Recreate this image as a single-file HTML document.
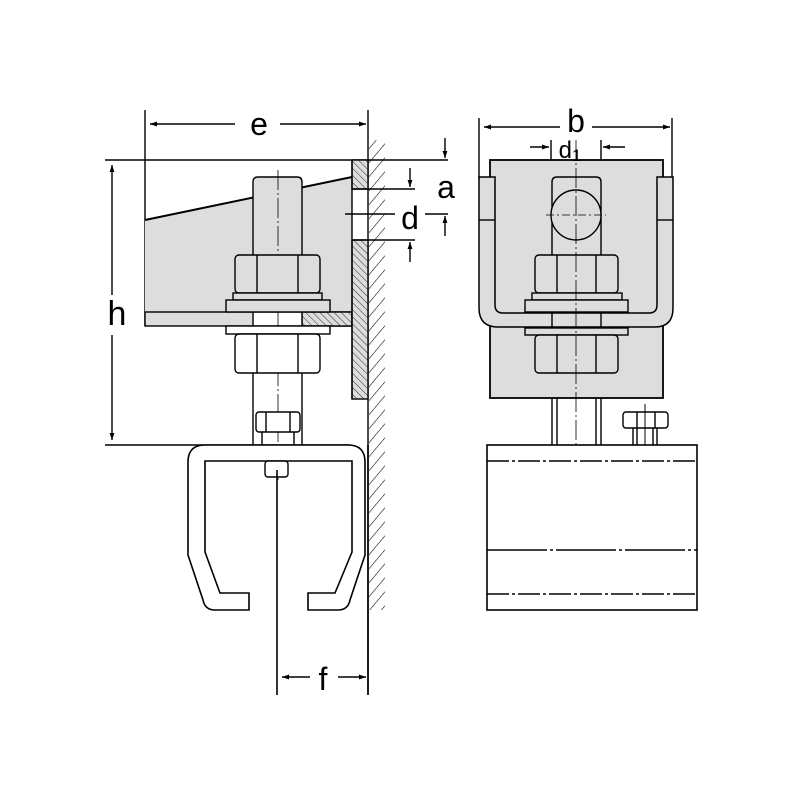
<!DOCTYPE html>
<html><head><meta charset="utf-8"><style>
html,body{margin:0;padding:0;background:#fff;width:800px;height:800px;overflow:hidden}
text{font-family:"Liberation Sans",Arial,sans-serif;fill:#000}
</style></head><body>
<svg width="800" height="800" viewBox="0 0 800 800" xmlns="http://www.w3.org/2000/svg">
<defs>
<pattern id="hw" width="9" height="9" patternUnits="userSpaceOnUse" patternTransform="rotate(40)">
<line x1="0" y1="0" x2="0" y2="9" stroke="#000" stroke-width="1.1"/></pattern>
<pattern id="hp" width="5" height="5" patternUnits="userSpaceOnUse" patternTransform="rotate(-45)">
<rect width="5" height="5" fill="#ddd"/><line x1="0" y1="0" x2="0" y2="5" stroke="#000" stroke-width="0.8"/></pattern>
<marker id="ar" viewBox="0 0 10 10" refX="10" refY="5" markerWidth="10" markerHeight="7" orient="auto-start-reverse" markerUnits="userSpaceOnUse">
<path d="M0,1.5 L10,5 L0,8.5 z" fill="#000"/></marker>
</defs>
<g stroke="#000" fill="none" stroke-width="1.4">
<rect x="369" y="140" width="16" height="470" fill="url(#hw)" stroke="none"/>
<line x1="368" y1="110" x2="368" y2="695"/>
<line x1="145" y1="110" x2="145" y2="326"/>
<line x1="150" y1="124" x2="235" y2="124" marker-start="url(#ar)"/>
<line x1="280" y1="124" x2="366" y2="124" marker-end="url(#ar)"/>
<line x1="105" y1="160" x2="448" y2="160"/>
<polygon points="145,220 352,177 352,312 145,312" fill="#ddd" stroke="none"/>
<line x1="145" y1="220" x2="352" y2="177" stroke-width="2"/>
<rect x="145" y="312" width="207" height="14" fill="#ddd"/>
<rect x="302" y="312" width="50" height="14" fill="url(#hp)"/>
<rect x="253" y="312" width="49" height="14" fill="#fff"/>
<rect x="352" y="160" width="16" height="29" fill="url(#hp)"/>
<rect x="352" y="240" width="16" height="159" fill="url(#hp)"/>
<line x1="352" y1="160" x2="352" y2="399"/>
<line x1="352" y1="189" x2="415" y2="189"/>
<line x1="352" y1="240" x2="415" y2="240"/>
<path d="M253,312 V182 Q253,177 258,177 H297 Q302,177 302,182 V312" fill="#ddd"/>
<line x1="278" y1="170" x2="278" y2="480" stroke-width="0.8" stroke-dasharray="20,3,2,3"/>
<rect x="235" y="255" width="85" height="38" rx="4" fill="#ddd"/>
<line x1="257" y1="255" x2="257" y2="293"/><line x1="298" y1="255" x2="298" y2="293"/>
<rect x="233" y="293" width="89" height="7" fill="#ddd"/>
<rect x="226" y="300" width="104" height="12" fill="#ddd"/>
<rect x="226" y="326" width="104" height="8" fill="#fff"/>
<rect x="235" y="334" width="85" height="39" rx="4" fill="#fff"/>
<line x1="257" y1="334" x2="257" y2="373"/><line x1="298" y1="334" x2="298" y2="373"/>
<line x1="253" y1="373" x2="253" y2="445"/><line x1="302" y1="373" x2="302" y2="445"/>
<rect x="256" y="412" width="44" height="20" rx="3" fill="#fff"/>
<line x1="266" y1="412" x2="266" y2="432"/><line x1="290" y1="412" x2="290" y2="432"/>
<line x1="262" y1="432" x2="262" y2="445"/><line x1="294" y1="432" x2="294" y2="445"/>
<line x1="105" y1="445" x2="350" y2="445"/>
<line x1="112" y1="165" x2="112" y2="295" marker-start="url(#ar)"/>
<line x1="112" y1="335" x2="112" y2="440" marker-end="url(#ar)"/>
<path d="M249,610 H215 Q205,610 203,600 L188,555 V462 Q188,445 205,445 H348 Q365,445 365,462 V555 L350,600 Q348,610 338,610 H308 V593 H335 L352,552 V461 H205 V552 L220,593 H249 Z" fill="#fff" stroke-width="1.6"/>
<rect x="265" y="461" width="23" height="16" rx="3" fill="#fff"/>
<line x1="277" y1="470" x2="277" y2="695" stroke-width="1.6"/>
<line x1="368" y1="445" x2="368" y2="695" stroke-width="1.6"/>
<line x1="282" y1="677" x2="310" y2="677" marker-start="url(#ar)"/>
<line x1="338" y1="677" x2="366" y2="677" marker-end="url(#ar)"/>
<line x1="445" y1="138" x2="445" y2="158" marker-end="url(#ar)"/>
<line x1="410" y1="168" x2="410" y2="187" marker-end="url(#ar)"/>
<line x1="410" y1="262" x2="410" y2="242" marker-end="url(#ar)"/>
<line x1="345" y1="214" x2="395" y2="214"/>
<line x1="425" y1="214" x2="448" y2="214"/>
<line x1="445" y1="236" x2="445" y2="216" marker-end="url(#ar)"/>
<line x1="479" y1="118" x2="479" y2="180"/>
<line x1="672" y1="118" x2="672" y2="180"/>
<line x1="484" y1="127" x2="560" y2="127" marker-start="url(#ar)"/>
<line x1="592" y1="127" x2="670" y2="127" marker-end="url(#ar)"/>
<line x1="551" y1="140" x2="551" y2="177"/><line x1="601" y1="140" x2="601" y2="177"/>
<line x1="530" y1="147" x2="549" y2="147" marker-end="url(#ar)"/>
<line x1="625" y1="147" x2="603" y2="147" marker-end="url(#ar)"/>
<rect x="490" y="160" width="173" height="165" fill="#ddd" stroke-width="1.8"/>
<rect x="490" y="325" width="173" height="73" fill="#ddd" stroke-width="1.8"/>
<path d="M479,177 V308 Q479,327 498,327 H655 Q673,327 673,308 V177 H657 V305 Q657,313 649,313 H503 Q495,313 495,305 V177 Z" fill="#ddd" stroke-width="1.5"/>
<line x1="479" y1="220" x2="495" y2="220"/><line x1="657" y1="220" x2="673" y2="220"/>
<path d="M552,312 V182 Q552,177 557,177 H596 Q601,177 601,182 V312" fill="#ddd"/>
<circle cx="576" cy="215" r="25" fill="#ddd"/>
<line x1="546" y1="215" x2="606" y2="215" stroke-width="0.8" stroke-dasharray="8,3,2,3"/>
<rect x="535" y="255" width="83" height="38" rx="4" fill="#ddd"/>
<line x1="557" y1="255" x2="557" y2="293"/><line x1="596" y1="255" x2="596" y2="293"/>
<rect x="532" y="293" width="90" height="7" fill="#ddd"/>
<rect x="525" y="300" width="103" height="12" fill="#ddd"/>
<rect x="525" y="328" width="103" height="7" fill="#ddd"/>
<rect x="535" y="335" width="83" height="38" rx="4" fill="#ddd"/>
<line x1="557" y1="335" x2="557" y2="373"/><line x1="596" y1="335" x2="596" y2="373"/>
<line x1="552" y1="313" x2="552" y2="328"/><line x1="601" y1="313" x2="601" y2="328"/>
<line x1="552" y1="398" x2="552" y2="445"/><line x1="557" y1="398" x2="557" y2="445"/>
<line x1="596" y1="398" x2="596" y2="445"/><line x1="601" y1="398" x2="601" y2="445"/>
<line x1="576" y1="140" x2="576" y2="472" stroke-width="0.8" stroke-dasharray="20,3,2,3"/>
<rect x="623" y="412" width="45" height="16" rx="3" fill="#fff"/>
<line x1="637" y1="412" x2="637" y2="428"/><line x1="655" y1="412" x2="655" y2="428"/>
<line x1="633" y1="428" x2="633" y2="445"/><line x1="637" y1="428" x2="637" y2="445"/>
<line x1="653" y1="428" x2="653" y2="445"/><line x1="657" y1="428" x2="657" y2="445"/>
<line x1="645" y1="404" x2="645" y2="468" stroke-width="1"/>
<rect x="487" y="445" width="210" height="165" fill="#fff" stroke-width="1.6"/>
<line x1="487" y1="461" x2="697" y2="461" stroke-dasharray="22,3,3,3"/>
<line x1="487" y1="550" x2="697" y2="550" stroke-dasharray="60,3,3,3"/>
<line x1="487" y1="594" x2="697" y2="594" stroke-dasharray="22,3,3,3"/>
</g>
<text x="259" y="135" font-size="32" text-anchor="middle">e</text>
<text x="117" y="325" font-size="34" text-anchor="middle">h</text>
<text x="323" y="690" font-size="32" text-anchor="middle">f</text>
<text x="446" y="198" font-size="32" text-anchor="middle">a</text>
<text x="410" y="229" font-size="32" text-anchor="middle">d</text>
<text x="576" y="132" font-size="32" text-anchor="middle">b</text>
<text x="570" y="158" font-size="24" text-anchor="middle">d<tspan font-size="17" dy="3">1</tspan></text>
</svg>
</body></html>
